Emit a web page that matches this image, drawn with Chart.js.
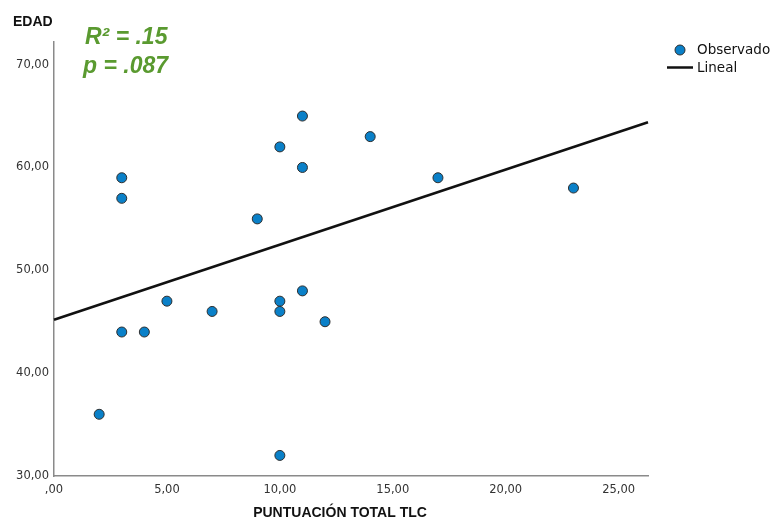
<!DOCTYPE html>
<html>
<head>
<meta charset="utf-8">
<script src="https://cdn.jsdelivr.net/npm/chart.js@4/dist/chart.umd.min.js"></script>
<style>
  html, body { margin: 0; padding: 0; background: #ffffff; }
  #wrap { width: 770px; height: 520px; position: relative; }
</style>
</head>
<body>
<div id="wrap"><canvas id="c" width="770" height="520"></canvas></div>
<script>
// Puntuación total TLC (x) y edad (y) de cada participante
const puntuacionTLC = [2, 3, 3, 3, 4, 5, 7, 9, 10, 10, 10, 10, 11, 11, 11, 12, 14, 17, 23];
const edad          = [36, 59, 57, 44, 44, 47, 46, 55, 62, 47, 46, 32, 65, 60, 48, 45, 63, 59, 58];

// Recta de ajuste lineal (intercepto y pendiente)
const ajusteIntercepto = 45.2;
const ajustePendiente = 0.73;

// Rango de los ejes y etiquetas de ticks
const xMin = 0, xMax = 26.3;
const yMin = 30, yMax = 72.2;
const xTicks = [0, 5, 10, 15, 20, 25];
const yTicks = [30, 40, 50, 60, 70];

// Estadísticos mostrados
const textoR2 = 'R\u00B2 = .15';
const textoP = 'p = .087';

const puntos = puntuacionTLC.map((x, i) => ({ x: x, y: edad[i] }));
const recta = [xMin, xMax].map(x => ({ x: x, y: ajusteIntercepto + ajustePendiente * x }));

const fmt = v => v === 0 ? ',00' : v.toFixed(2).replace('.', ',');

const AXIS_COLOR = '#8a8a8a';
const TICK_COLOR = '#333333';
const POINT_FILL = '#0a80c8';
const POINT_BORDER = '#2e2e2e';
const GREEN = '#5a9a30';

const overlay = {
  id: 'overlay',
  afterDraw(chart) {
    const ctx = chart.ctx;
    ctx.save();
    // Títulos de los ejes
    ctx.fillStyle = '#111';
    ctx.font = 'bold 14px "Liberation Sans", Arial, sans-serif';
    ctx.textBaseline = 'middle';
    ctx.textAlign = 'left';
    ctx.fillText('EDAD', 13, 22);
    ctx.textAlign = 'center';
    ctx.fillText('PUNTUACI\u00D3N TOTAL TLC', 340, 513);

    // Estadísticos
    ctx.fillStyle = GREEN;
    ctx.font = 'italic bold 23px "Liberation Sans", Arial, sans-serif';
    ctx.textAlign = 'left';
    ctx.fillText(textoR2, 85, 38);
    ctx.fillText(textoP, 83, 67);

    // Leyenda
    ctx.beginPath();
    ctx.arc(680, 50, 5, 0, Math.PI * 2);
    ctx.fillStyle = POINT_FILL;
    ctx.fill();
    ctx.lineWidth = 1;
    ctx.strokeStyle = POINT_BORDER;
    ctx.stroke();
    ctx.beginPath();
    ctx.moveTo(667, 67.5);
    ctx.lineTo(693, 67.5);
    ctx.lineWidth = 2.5;
    ctx.strokeStyle = '#111';
    ctx.stroke();
    ctx.fillStyle = '#111';
    ctx.font = '13.5px "DejaVu Sans", sans-serif';
    ctx.textAlign = 'left';
    ctx.fillText('Observado', 697, 50);
    ctx.fillText('Lineal', 697, 68);
    ctx.restore();
  }
};

new Chart(document.getElementById('c'), {
  data: {
    datasets: [
      {
        type: 'line',
        label: 'Lineal',
        data: recta,
        borderColor: '#111111',
        borderWidth: 2.6,
        pointRadius: 0,
        fill: false,
        order: 2
      },
      {
        type: 'scatter',
        label: 'Observado',
        data: puntos,
        backgroundColor: POINT_FILL,
        borderColor: POINT_BORDER,
        borderWidth: 1,
        pointRadius: 5,
        order: 1
      }
    ]
  },
  options: {
    responsive: false,
    animation: false,
    clip: false,
    layout: { padding: { top: 42, right: 122, left: 0, bottom: 0 } },
    plugins: { legend: { display: false }, tooltip: { enabled: false } },
    scales: {
      x: {
        type: 'linear',
        min: xMin,
        max: xMax,
        afterBuildTicks: s => { s.ticks = xTicks.map(v => ({ value: v })); },
        afterFit: s => { s.height = 44; },
        grid: { display: false, drawTicks: false },
        border: { display: true, color: AXIS_COLOR, width: 1.5 },
        ticks: {
          padding: 7,
          color: TICK_COLOR,
          font: { family: '"DejaVu Sans", sans-serif', size: 11.5 },
          maxRotation: 0,
          callback: v => fmt(v)
        }
      },
      y: {
        type: 'linear',
        min: yMin,
        max: yMax,
        afterBuildTicks: s => { s.ticks = yTicks.map(v => ({ value: v })); },
        afterFit: s => { s.width = 54; },
        grid: { display: false, drawTicks: false },
        border: { display: true, color: AXIS_COLOR, width: 1.5 },
        ticks: {
          padding: 5,
          color: TICK_COLOR,
          font: { family: '"DejaVu Sans", sans-serif', size: 11.5 },
          callback: v => fmt(v)
        }
      }
    }
  },
  plugins: [overlay]
});
</script>
</body>
</html>
